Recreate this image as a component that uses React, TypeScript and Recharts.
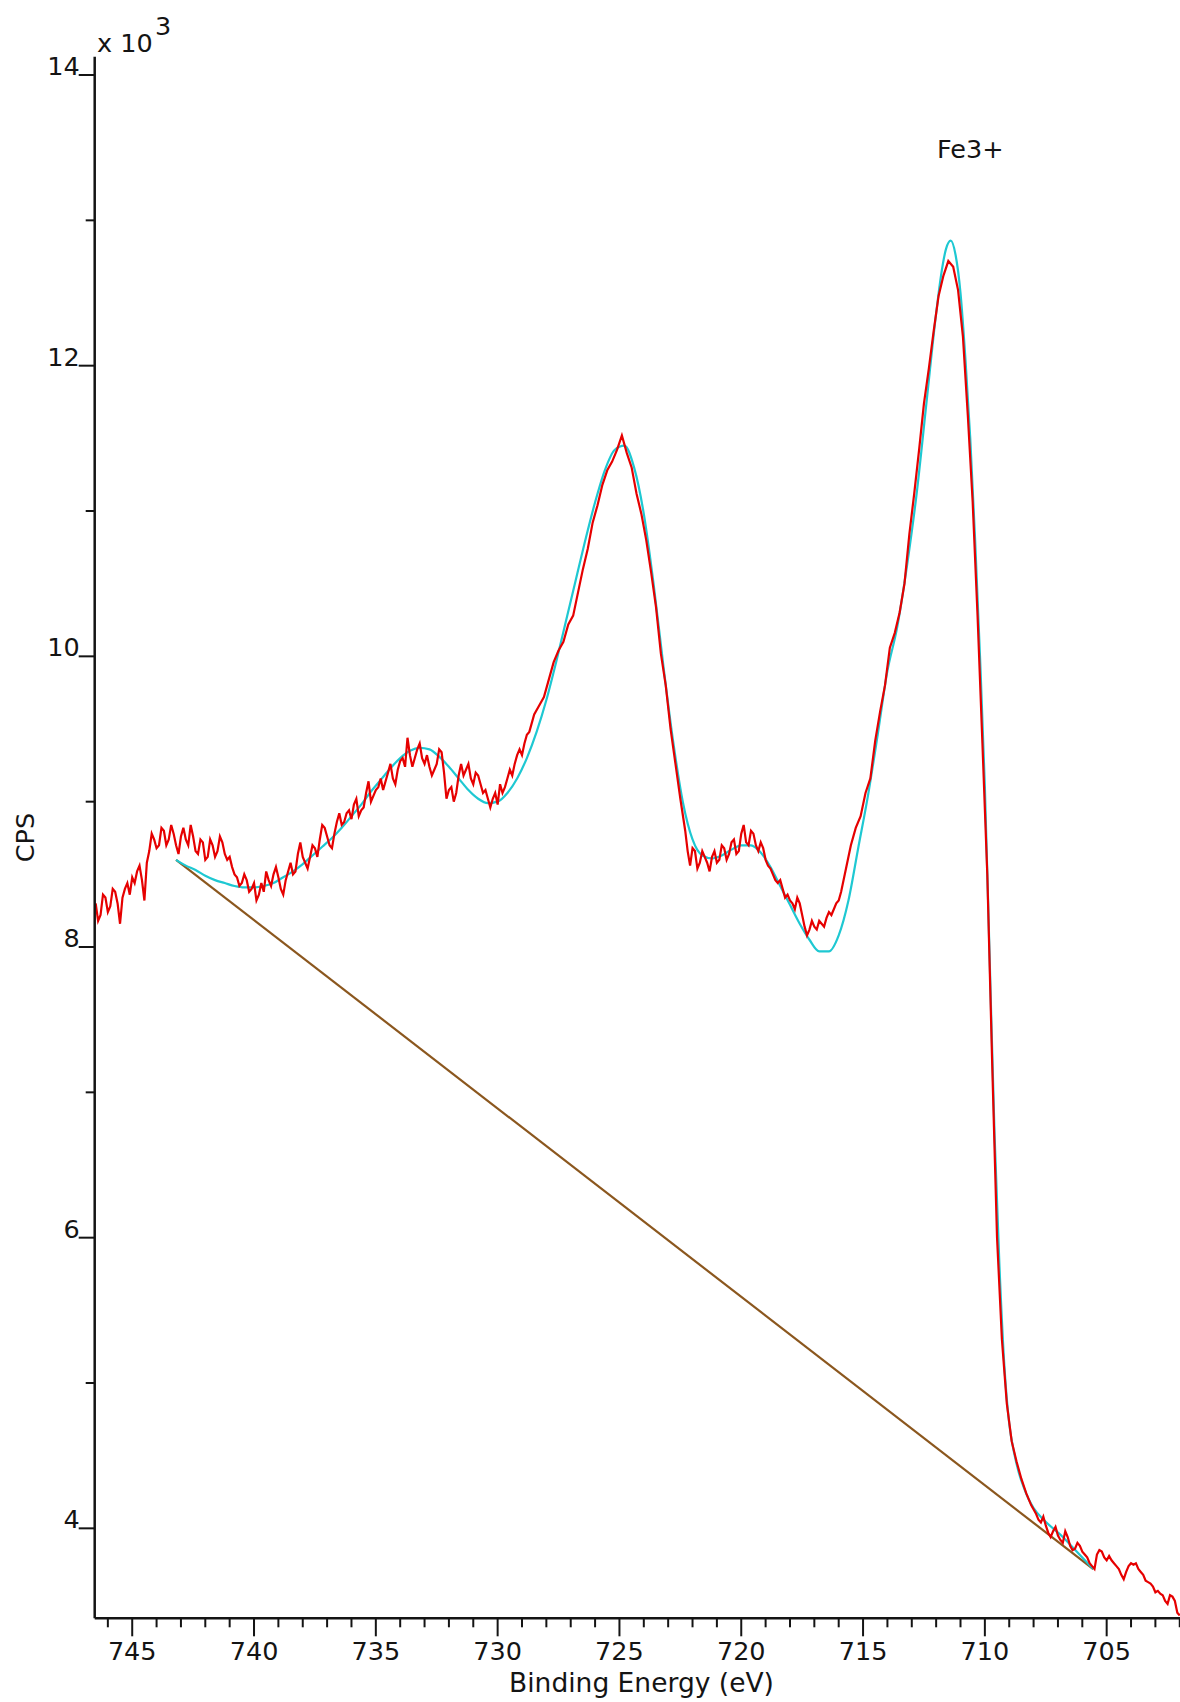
import React from 'react';
import { LineChart, Line, XAxis, YAxis } from 'recharts';

// Raw Fe 2p spectrum (binding energy eV, CPS x 10^3)
const rawSpectrum: [number, number][] = [
  [746.5, 8.30], [746.4, 8.18], [746.3, 8.22], [746.2, 8.36], [746.1, 8.34], [746.0, 8.24], [745.9, 8.28], [745.8, 8.40],
  [745.7, 8.38], [745.6, 8.30], [745.5, 8.16], [745.4, 8.34], [745.3, 8.40], [745.2, 8.44], [745.1, 8.36], [745.0, 8.48],
  [744.9, 8.44], [744.8, 8.52], [744.7, 8.56], [744.6, 8.46], [744.5, 8.32], [744.4, 8.58], [744.3, 8.66], [744.2, 8.78],
  [744.1, 8.74], [744.0, 8.68], [743.9, 8.70], [743.8, 8.82], [743.7, 8.80], [743.6, 8.70], [743.5, 8.74], [743.4, 8.84],
  [743.3, 8.78], [743.2, 8.70], [743.1, 8.64], [743.0, 8.76], [742.9, 8.82], [742.8, 8.74], [742.7, 8.70], [742.6, 8.84],
  [742.5, 8.76], [742.4, 8.66], [742.3, 8.64], [742.2, 8.74], [742.1, 8.72], [742.0, 8.60], [741.9, 8.62], [741.8, 8.74],
  [741.7, 8.70], [741.6, 8.62], [741.5, 8.66], [741.4, 8.76], [741.3, 8.72], [741.2, 8.64], [741.1, 8.60], [741.0, 8.62],
  [740.9, 8.55], [740.8, 8.50], [740.7, 8.48], [740.6, 8.42], [740.5, 8.44], [740.4, 8.50], [740.3, 8.46], [740.2, 8.38],
  [740.1, 8.40], [740.0, 8.44], [739.9, 8.32], [739.8, 8.36], [739.7, 8.44], [739.6, 8.38], [739.5, 8.52], [739.4, 8.46],
  [739.3, 8.42], [739.2, 8.50], [739.1, 8.55], [739.0, 8.48], [738.9, 8.40], [738.8, 8.36], [738.7, 8.46], [738.6, 8.52],
  [738.5, 8.58], [738.4, 8.50], [738.3, 8.52], [738.2, 8.64], [738.1, 8.72], [738.0, 8.62], [737.9, 8.58], [737.8, 8.54],
  [737.7, 8.62], [737.6, 8.70], [737.5, 8.68], [737.4, 8.62], [737.3, 8.74], [737.2, 8.84], [737.1, 8.82], [737.0, 8.76],
  [736.9, 8.70], [736.8, 8.68], [736.7, 8.78], [736.6, 8.86], [736.5, 8.92], [736.4, 8.84], [736.3, 8.86], [736.2, 8.92],
  [736.1, 8.94], [736.0, 8.88], [735.9, 8.98], [735.8, 9.02], [735.7, 8.90], [735.6, 8.94], [735.5, 8.96], [735.4, 9.06],
  [735.3, 9.14], [735.2, 9.00], [735.1, 9.04], [735.0, 9.08], [734.9, 9.10], [734.8, 9.16], [734.7, 9.08], [734.6, 9.14],
  [734.5, 9.20], [734.4, 9.26], [734.3, 9.16], [734.2, 9.12], [734.1, 9.22], [734.0, 9.28], [733.9, 9.30], [733.8, 9.24],
  [733.7, 9.44], [733.6, 9.32], [733.5, 9.24], [733.4, 9.30], [733.3, 9.36], [733.2, 9.40], [733.1, 9.30], [733.0, 9.26],
  [732.9, 9.32], [732.8, 9.24], [732.7, 9.18], [732.6, 9.22], [732.5, 9.26], [732.4, 9.36], [732.3, 9.34], [732.2, 9.20],
  [732.1, 9.02], [732.0, 9.08], [731.9, 9.10], [731.8, 9.00], [731.7, 9.06], [731.6, 9.18], [731.5, 9.26], [731.4, 9.18],
  [731.3, 9.22], [731.2, 9.26], [731.1, 9.16], [731.0, 9.12], [730.9, 9.20], [730.8, 9.18], [730.7, 9.12], [730.6, 9.06],
  [730.5, 9.08], [730.4, 9.02], [730.3, 8.96], [730.2, 9.02], [730.1, 9.06], [730.0, 8.98], [729.9, 9.12], [729.8, 9.06],
  [729.7, 9.10], [729.6, 9.16], [729.5, 9.22], [729.4, 9.18], [729.3, 9.26], [729.2, 9.32], [729.1, 9.36], [729.0, 9.32],
  [728.9, 9.40], [728.8, 9.46], [728.7, 9.48], [728.5, 9.60], [728.3, 9.66], [728.1, 9.72], [727.9, 9.84], [727.7, 9.96],
  [727.5, 10.04], [727.3, 10.10], [727.1, 10.22], [726.9, 10.28], [726.7, 10.44], [726.5, 10.60], [726.3, 10.74], [726.1, 10.92],
  [725.9, 11.04], [725.7, 11.18], [725.5, 11.28], [725.3, 11.34], [725.1, 11.42], [724.9, 11.52], [724.7, 11.40], [724.5, 11.30],
  [724.3, 11.12], [724.1, 10.98], [723.9, 10.80], [723.7, 10.58], [723.5, 10.34], [723.3, 10.02], [723.1, 9.80], [722.9, 9.50],
  [722.7, 9.26], [722.5, 9.02], [722.3, 8.80], [722.2, 8.66], [722.1, 8.56], [722.0, 8.68], [721.9, 8.66], [721.8, 8.54],
  [721.7, 8.58], [721.6, 8.66], [721.5, 8.62], [721.4, 8.58], [721.3, 8.52], [721.2, 8.62], [721.1, 8.66], [721.0, 8.58],
  [720.9, 8.60], [720.8, 8.70], [720.7, 8.68], [720.6, 8.60], [720.5, 8.64], [720.4, 8.72], [720.3, 8.74], [720.2, 8.64],
  [720.1, 8.66], [720.0, 8.78], [719.9, 8.84], [719.8, 8.72], [719.7, 8.70], [719.6, 8.80], [719.5, 8.78], [719.4, 8.70],
  [719.3, 8.66], [719.2, 8.72], [719.1, 8.68], [719.0, 8.60], [718.9, 8.56], [718.8, 8.54], [718.7, 8.50], [718.6, 8.46],
  [718.5, 8.44], [718.4, 8.46], [718.3, 8.40], [718.2, 8.34], [718.1, 8.36], [718.0, 8.32], [717.9, 8.30], [717.8, 8.26],
  [717.7, 8.34], [717.6, 8.30], [717.5, 8.22], [717.4, 8.14], [717.3, 8.08], [717.2, 8.12], [717.1, 8.18], [717.0, 8.14],
  [716.9, 8.12], [716.8, 8.18], [716.7, 8.16], [716.6, 8.14], [716.5, 8.20], [716.4, 8.24], [716.3, 8.22], [716.2, 8.26],
  [716.1, 8.30], [716.0, 8.32], [715.9, 8.38], [715.7, 8.54], [715.5, 8.70], [715.3, 8.82], [715.1, 8.90], [714.9, 9.06],
  [714.7, 9.16], [714.5, 9.42], [714.3, 9.62], [714.1, 9.80], [713.9, 10.06], [713.7, 10.16], [713.5, 10.30], [713.3, 10.50],
  [713.1, 10.84], [712.9, 11.12], [712.7, 11.42], [712.5, 11.74], [712.3, 11.98], [712.1, 12.24], [711.9, 12.48], [711.7, 12.62],
  [711.5, 12.72], [711.3, 12.68], [711.1, 12.52], [710.9, 12.20], [710.7, 11.66], [710.5, 11.06], [710.3, 10.28], [710.1, 9.40],
  [709.9, 8.50], [709.7, 7.20], [709.5, 6.00], [709.3, 5.30], [709.1, 4.86], [708.9, 4.60], [708.7, 4.46], [708.5, 4.34],
  [708.3, 4.24], [708.1, 4.16], [707.9, 4.10], [707.8, 4.06], [707.7, 4.04], [707.6, 4.08], [707.5, 4.02], [707.4, 3.97],
  [707.3, 3.94], [707.2, 3.98], [707.1, 4.01], [707.0, 3.95], [706.9, 3.92], [706.8, 3.90], [706.7, 3.98], [706.6, 3.94],
  [706.5, 3.88], [706.4, 3.85], [706.3, 3.86], [706.2, 3.90], [706.1, 3.88], [706.0, 3.84], [705.9, 3.82], [705.8, 3.80],
  [705.7, 3.76], [705.6, 3.74], [705.5, 3.72], [705.4, 3.82], [705.3, 3.85], [705.2, 3.84], [705.1, 3.80], [705.0, 3.78],
  [704.9, 3.81], [704.8, 3.78], [704.7, 3.76], [704.6, 3.74], [704.5, 3.72], [704.4, 3.68], [704.3, 3.65], [704.2, 3.70],
  [704.1, 3.74], [704.0, 3.76], [703.9, 3.75], [703.8, 3.76], [703.7, 3.72], [703.6, 3.70], [703.5, 3.68], [703.4, 3.64],
  [703.3, 3.63], [703.2, 3.62], [703.1, 3.60], [703.0, 3.56], [702.9, 3.57], [702.8, 3.55], [702.7, 3.54], [702.6, 3.50],
  [702.5, 3.48], [702.4, 3.54], [702.3, 3.53], [702.2, 3.50], [702.1, 3.42], [702.0, 3.40],
];

// Fitted envelope
const envelopeFit: [number, number][] = [
  [743.2, 8.60], [742.8, 8.56], [742.4, 8.53], [742.0, 8.49], [741.6, 8.46], [741.2, 8.44], [740.8, 8.42], [740.4, 8.41],
  [740.0, 8.41], [739.6, 8.42], [739.2, 8.44], [738.8, 8.48], [738.4, 8.52], [738.0, 8.57], [737.6, 8.63], [737.2, 8.69],
  [736.8, 8.75], [736.4, 8.82], [736.0, 8.90], [735.6, 8.98], [735.2, 9.07], [734.8, 9.15], [734.4, 9.23], [734.0, 9.30],
  [733.6, 9.35], [733.2, 9.37], [732.8, 9.36], [732.4, 9.31], [732.0, 9.24], [731.6, 9.16], [731.2, 9.08], [730.8, 9.02],
  [730.4, 8.99], [730.0, 9.00], [729.6, 9.06], [729.2, 9.16], [728.8, 9.30], [728.4, 9.48], [728.0, 9.70], [727.6, 9.96],
  [727.2, 10.24], [726.8, 10.52], [726.4, 10.80], [726.0, 11.06], [725.6, 11.28], [725.2, 11.42], [724.8, 11.45], [724.4, 11.30],
  [724.0, 10.98], [723.6, 10.50], [723.2, 9.94], [722.8, 9.42], [722.4, 9.00], [722.0, 8.74], [721.6, 8.63], [721.2, 8.61],
  [720.8, 8.63], [720.4, 8.67], [720.0, 8.70], [719.6, 8.70], [719.2, 8.65], [718.8, 8.55], [718.4, 8.42], [718.0, 8.29],
  [717.6, 8.16], [717.2, 8.05], [716.8, 7.97], [716.4, 7.97], [716.0, 8.08], [715.6, 8.32], [715.2, 8.68], [714.8, 9.04],
  [714.4, 9.46], [714.0, 9.90], [713.6, 10.20], [713.2, 10.62], [712.8, 11.12], [712.4, 11.74], [712.0, 12.36], [711.8, 12.62],
  [711.6, 12.80], [711.4, 12.86], [711.2, 12.76], [711.0, 12.50], [710.8, 12.05], [710.6, 11.50], [710.4, 10.80], [710.2, 10.00],
  [710.0, 9.10], [709.8, 7.90], [709.6, 6.70], [709.4, 5.80], [709.2, 5.12], [709.0, 4.72], [708.8, 4.52], [708.6, 4.38],
  [708.4, 4.28], [708.2, 4.20], [708.0, 4.14], [707.6, 4.06], [707.2, 4.00], [706.8, 3.94], [706.4, 3.87], [706.0, 3.80],
  [705.55, 3.72],
];

// Background
const backgroundLine: [number, number][] = [[743.2, 8.60], [705.55, 3.72]];

const xMajorTicks = [745, 740, 735, 730, 725, 720, 715, 710, 705];
const xMinorTicks = [746, 744, 743, 742, 741, 739, 738, 737, 736, 734, 733, 732, 731, 729, 728, 727, 726, 724, 723, 722, 721, 719, 718, 717, 716, 714, 713, 712, 711, 709, 708, 707, 706, 704, 703, 702];
const yMajorTicks = [4, 6, 8, 10, 12, 14];
const yMinorTicks = [5, 7, 9, 11, 13];
const xDomain: [number, number] = [701.99, 746.54];
const yDomain: [number, number] = [3.381, 14.126];

const INK = '#141414';
const FONT = "Verdana, 'DejaVu Sans', sans-serif";
const FS = 25.5;
const FS_TITLE = 26.5;

const toRows = (pairs: [number, number][]) => pairs.map(([e, c]) => ({ e, c }));
const rawRows = toRows(rawSpectrum);
const fitRows = toRows(envelopeFit);
const bgRows = toRows(backgroundLine);
const xTicks = [...xMajorTicks, ...xMinorTicks].sort((a, b) => b - a);
const yTicks = [...yMajorTicks, ...yMinorTicks].sort((a, b) => a - b);

const XTick = (props: any) => {
  const { x, y, payload } = props;
  const major = xMajorTicks.includes(payload.value);
  return (
    <g>
      <line x1={x} x2={x} y1={y} y2={y + (major ? 18 : 9)} stroke={INK} strokeWidth={2} />
      {major && (
        <text x={x} y={y + 42} textAnchor="middle" fontSize={FS} fill={INK} fontFamily={FONT}>
          {payload.value}
        </text>
      )}
    </g>
  );
};

const YTick = (props: any) => {
  const { x, y, payload } = props;
  const major = yMajorTicks.includes(payload.value);
  return (
    <g>
      <line x1={x - (major ? 16 : 9)} x2={x} y1={y} y2={y} stroke={INK} strokeWidth={2} />
      {major && (
        <text x={x - 15} y={y} textAnchor="end" fontSize={FS} fill={INK} fontFamily={FONT}>
          {payload.value}
        </text>
      )}
    </g>
  );
};

export default function App() {
  return (
    <div style={{ position: 'absolute', left: 0, top: 0, width: 1180, height: 1702, overflow: 'hidden', background: '#fff' }}>
      <LineChart width={1180} height={1702} margin={{ top: 56.7, right: 0, bottom: 0, left: 0 }}>
        <XAxis
          xAxisId="bottom"
          dataKey="e"
          type="number"
          domain={xDomain}
          allowDataOverflow
          reversed
          ticks={xTicks}
          interval={0}
          tickSize={0}
          tickMargin={0}
          tickLine={false}
          tick={<XTick />}
          height={83.7}
          axisLine={{ stroke: INK, strokeWidth: 2.5 }}
        />
        <XAxis
          xAxisId="top"
          orientation="top"
          dataKey="e"
          type="number"
          domain={xDomain}
          allowDataOverflow
          reversed
          tick={false}
          tickLine={false}
          height={0}
          axisLine={{ stroke: INK, strokeWidth: 2.5 }}
        />
        <YAxis
          dataKey="c"
          type="number"
          domain={yDomain}
          allowDataOverflow
          ticks={yTicks}
          interval={0}
          tickSize={0}
          tickMargin={0}
          tickLine={false}
          tick={<YTick />}
          width={94.7}
          axisLine={{ stroke: INK, strokeWidth: 2.5 }}
        />
        <Line xAxisId="bottom" data={bgRows} dataKey="c" type="linear" stroke="#8b571e" strokeWidth={2.2} dot={false} isAnimationActive={false} />
        <Line xAxisId="bottom" data={fitRows} dataKey="c" type="monotone" stroke="#1ec8d2" strokeWidth={2.2} dot={false} isAnimationActive={false} />
        <Line xAxisId="bottom" data={rawRows} dataKey="c" type="linear" stroke="#e60000" strokeWidth={2.2} dot={false} isAnimationActive={false} />
      </LineChart>
      <svg width={1180} height={1702} style={{ position: 'absolute', left: 0, top: 0, pointerEvents: 'none' }}>
        <text x={97} y={52} fontSize={FS} fill={INK} fontFamily={FONT}>x 10</text>
        <text x={155} y={35} fontSize={FS} fill={INK} fontFamily={FONT}>3</text>
        <text x={34} y={837.5} fontSize={FS} fill={INK} fontFamily={FONT} textAnchor="middle" transform="rotate(-90, 34, 837.5)">CPS</text>
        <text x={641.5} y={1692} fontSize={FS_TITLE} fill={INK} fontFamily={FONT} textAnchor="middle">Binding Energy (eV)</text>
        <text x={937} y={158} fontSize={FS} fill={INK} fontFamily={FONT}>Fe3+</text>
      </svg>
    </div>
  );
}
